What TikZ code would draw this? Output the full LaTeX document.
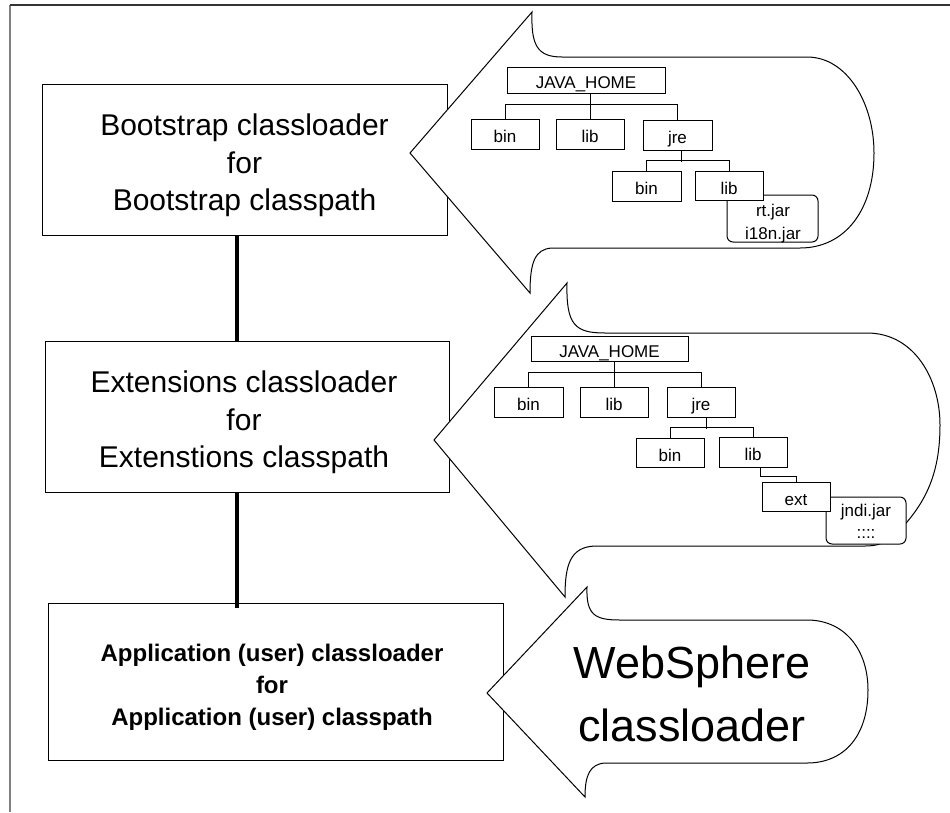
\documentclass[tikz,border=0pt]{standalone}
\usepackage{fontspec}
\setmainfont{Liberation Sans}
\begin{document}
\begin{tikzpicture}[x=1pt,y=-1pt]
\tikzset{
  bigbox/.style={draw, line width=1pt, fill=white, inner sep=0pt},
  bigtext/.style={inner sep=0pt, align=center, font=\fontsize{30}{37.5}\selectfont},
  treebox/.style={draw, line width=1pt, fill=white, inner sep=0pt, text height=17pt, text depth=0pt, font=\fontsize{17}{20}\selectfont},
  jarbox/.style={draw, line width=1pt, fill=white, rounded corners=6pt, inner sep=0pt},
  jartext/.style={inner sep=0pt, anchor=base, font=\fontsize{17}{20}\selectfont},
  callout/.style={draw, line width=1pt, fill=white, line join=miter},
  link/.style={line width=3.3pt},
  treeline/.style={line width=1pt},
  frameline/.style={line width=1.1pt}
}
\useasboundingbox (0,0) rectangle (950,812);
% outer frame (only top and left edges visible)
\draw[frameline, gray] (10,812) -- (10,5);
\draw[frameline, black!80] (10,5) -- (950,5);

% classloader boxes
\node[bigbox, minimum width=405pt, minimum height=151pt] (b1) at (244.5,159.5) {};
\node[bigbox, minimum width=404pt, minimum height=151pt] (b2) at (247,416.5) {};
\node[bigbox, minimum width=455pt, minimum height=157pt] (b3) at (275.5,681.5) {};
\node[bigtext] (t1) at ([yshift=-6pt]b1.center) {Bootstrap classloader\\for\\Bootstrap classpath};
\node[bigtext] (t2) at ([yshift=-6pt,xshift=-3pt]b2.center) {Extensions classloader\\for\\Extenstions classpath};
\node[bigtext, font=\fontsize{24}{32}\selectfont\bfseries] (t3) at ([yshift=-6pt,xshift=-3.5pt]b3.center)
  {Application (user) classloader\\for\\Application (user) classpath};

\coordinate (lx) at (237,0);
\draw[link] (b1.south -| lx) -- (b2.north -| lx);
\draw[link] (b2.south -| lx) -- ([yshift=-5pt]b3.north -| lx);

% callout 1
\draw[callout] (410,153) -- (532,12) .. controls (531,45) and (537,57) .. (562,57)
  -- (807,57) .. controls (847,57) and (874,103) .. (874,153)
  .. controls (874,210) and (845,248) .. (800,248)
  -- (552,248) .. controls (535,249) and (530,262) .. (530,293) -- cycle;
% callout 2
\draw[callout] (434,440) -- (567,283) .. controls (566,325) and (575,333) .. (605,333)
  -- (867,333) .. controls (915,333) and (940,380) .. (940,425)
  .. controls (940,475) and (925,505) .. (895,535)
  .. controls (885,543) and (878,546) .. (865,546)
  -- (595,546) .. controls (570,547) and (565,565) .. (565,597) -- cycle;
% callout 3
\draw[callout] (487,693) -- (587,587) .. controls (586,615) and (595,620) .. (620,620)
  -- (807,620) .. controls (845,620) and (868,650) .. (868,690)
  .. controls (868,735) and (845,763) .. (807,763)
  -- (605,763) .. controls (590,764) and (585,775) .. (585,797) -- cycle;

\node[font=\fontsize{45}{63}\selectfont, align=center, inner sep=0pt] (ws) at (692,694) {WebSphere\\classloader};

% tree 1
\node[treebox, minimum width=158pt, minimum height=26pt] (jh1) at (586,80) {JAVA\_HOME};
\node[treebox, minimum width=68pt, minimum height=30pt] (bin1a) at (505,134) {bin};
\node[treebox, minimum width=68pt, minimum height=30pt] (lib1a) at (590,134) {lib};
\node[treebox, minimum width=69pt, minimum height=30pt] (jre1a) at (677.5,135) {jre};
\node[treebox, minimum width=69pt, minimum height=30pt] (bin1b) at (646.5,186) {bin};
\node[jarbox, minimum width=91pt, minimum height=47pt] (rt1) at (772.5,218.5) {};
\node[jartext] (rt1a) at (773,216.5) {rt.jar};
\node[jartext] (rt1b) at (773,239) {i18n.jar};
\node[treebox, minimum width=68pt, minimum height=29pt] (lib1b) at (729,185.5) {lib};
\draw[treeline] (jh1.south -| lib1a.north) -- (lib1a.north);
\draw[treeline] (bin1a.north) -- ++(0,-14) -| (jre1a.north);
\draw[treeline] ([xshift=4pt]jre1a.south) -- ++(0,11);
\draw[treeline] (bin1b.north) -- ++(0,-10) -| (lib1b.north);

% tree 2
\node[treebox, minimum width=157pt, minimum height=25pt] (jh2) at (609.5,348.5) {JAVA\_HOME};
\node[treebox, minimum width=69pt, minimum height=30pt] (bin2a) at (528.5,402) {bin};
\node[treebox, minimum width=68pt, minimum height=30pt] (lib2a) at (614,402) {lib};
\node[treebox, minimum width=68pt, minimum height=30pt] (jre2a) at (701,402) {jre};
\node[treebox, minimum width=68pt, minimum height=29pt] (bin2b) at (670,452.5) {bin};
\node[treebox, minimum width=68pt, minimum height=30pt] (lib2b) at (753,452) {lib};
\node[jarbox, minimum width=80pt, minimum height=47pt] (jndi2) at (866,520.5) {};
\node[jartext] (jndi2a) at (866,516.5) {jndi.jar};
\node[jartext] (jndi2b) at (866,538) {::::};
\node[treebox, minimum width=68pt, minimum height=29pt] (ext2) at (796,496.5) {ext};
\draw[treeline] (jh2.south -| lib2a.north) -- (lib2a.north);
\draw[treeline] (bin2a.north) -- ++(0,-14) -| (jre2a.north);
\draw[treeline] ([xshift=5pt]jre2a.south) -- ++(0,11);
\draw[treeline] (bin2b.north) -- ++(0,-10) -| (lib2b.north);
\draw[treeline] ([xshift=7pt]lib2b.south) -- ++(0,9) -| (ext2.north);
\end{tikzpicture}
\end{document}
